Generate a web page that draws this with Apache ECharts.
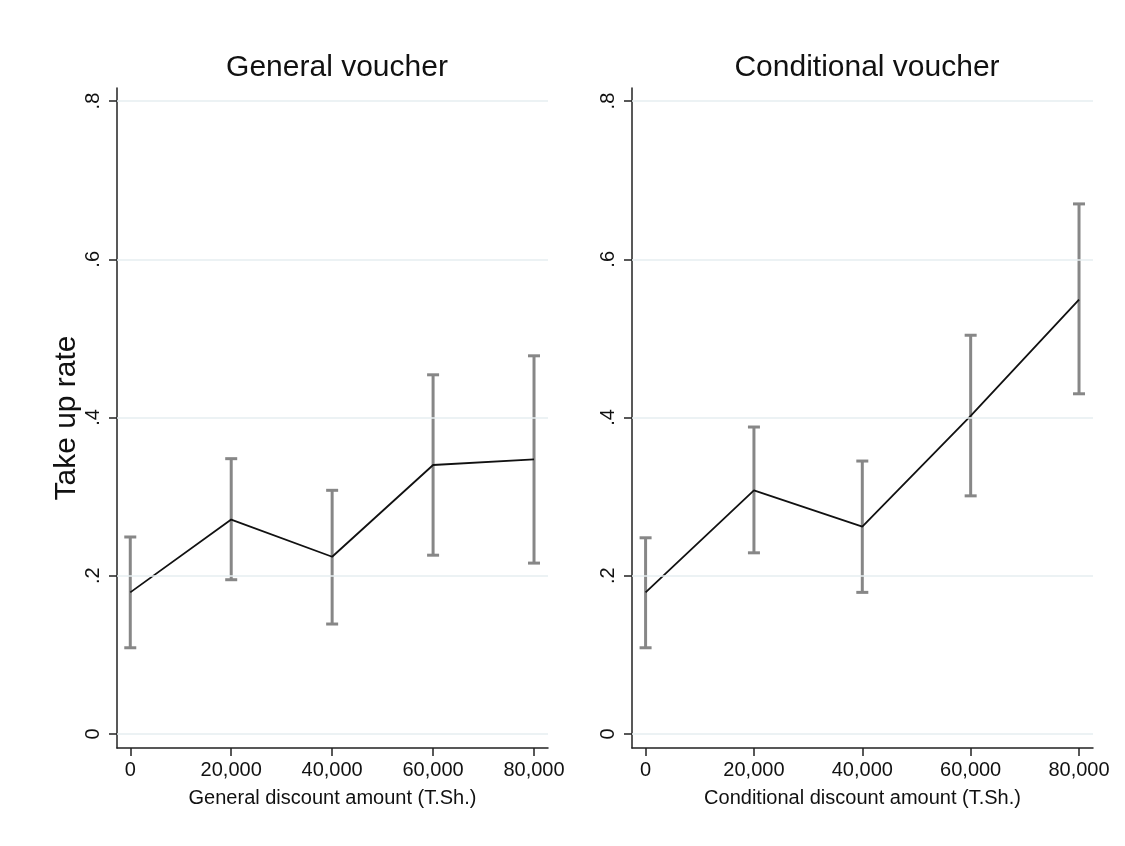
<!DOCTYPE html>
<html>
<head>
<meta charset="utf-8">
<script src="https://cdn.jsdelivr.net/npm/echarts@6/dist/echarts.min.js"></script>
<style>
html,body{margin:0;padding:0;background:#fff;}
#chart{width:1125px;height:846px;}
</style>
</head>
<body>
<div id="chart"></div>
<script>
// ---- data ----
const discountAmounts = [0, 20000, 40000, 60000, 80000];
const yTicks = [0, 0.2, 0.4, 0.6, 0.8];

const generalMean = [0.179, 0.271, 0.224, 0.340, 0.347];
const generalLow  = [0.109, 0.195, 0.139, 0.226, 0.216];
const generalHigh = [0.249, 0.348, 0.308, 0.454, 0.478];

const conditionalMean = [0.179, 0.308, 0.262, 0.402, 0.549];
const conditionalLow  = [0.109, 0.229, 0.179, 0.301, 0.430];
const conditionalHigh = [0.248, 0.388, 0.345, 0.504, 0.670];

const panelTitles = ['General voucher', 'Conditional voucher'];
const xAxisNames = ['General discount amount (T.Sh.)', 'Conditional discount amount (T.Sh.)'];
const yAxisName = 'Take up rate';

// ---- chart ----
const FONT = '"Liberation Sans", Arial, Helvetica, sans-serif';
const chart = echarts.init(document.getElementById('chart'));

function fmtX(v) { return Number(v).toLocaleString('en-US'); }
function fmtY(v) { return v === 0 ? '0' : String(v).replace(/^0/, ''); }

function errorBarItem(params, api) {
  const x = api.value(0), lo = api.value(1), hi = api.value(2);
  const pLo = api.coord([x, lo]);
  const pHi = api.coord([x, hi]);
  const hw = 6;
  const st = { stroke: '#878787', lineWidth: 3 };
  return {
    type: 'group',
    children: [
      { type: 'line', shape: { x1: pHi[0], y1: pHi[1], x2: pLo[0], y2: pLo[1] }, style: st },
      { type: 'line', shape: { x1: pHi[0] - hw, y1: pHi[1], x2: pHi[0] + hw, y2: pHi[1] }, style: st },
      { type: 'line', shape: { x1: pLo[0] - hw, y1: pLo[1], x2: pLo[0] + hw, y2: pLo[1] }, style: st }
    ]
  };
}

function xAxisCfg(idx, min, max) {
  return {
    type: 'value', gridIndex: idx, min: min, max: max,
    name: xAxisNames[idx], nameLocation: 'middle', nameGap: 40,
    nameTextStyle: { fontFamily: FONT, fontSize: 20, color: '#111' },
    axisLine: { show: true, onZero: false, lineStyle: { color: '#222', width: 1.5 } },
    axisTick: { show: true, length: 8, customValues: discountAmounts, lineStyle: { color: '#222', width: 1.5 } },
    axisLabel: { customValues: discountAmounts, formatter: fmtX, fontFamily: FONT, fontSize: 20, color: '#111', margin: 12 },
    splitLine: { show: false }
  };
}

function yAxisCfg(idx, withName) {
  return {
    type: 'value', gridIndex: idx, min: -0.0177, max: 0.8165,
    name: withName ? yAxisName : '', nameLocation: 'middle', nameGap: 35, nameRotate: 90,
    nameTextStyle: { fontFamily: FONT, fontSize: 30, color: '#111' },
    axisLine: { show: true, onZero: false, lineStyle: { color: '#222', width: 1.5 } },
    axisTick: { show: true, length: 8, customValues: yTicks, lineStyle: { color: '#222', width: 1.5 } },
    axisLabel: { customValues: yTicks, formatter: fmtY, rotate: 90, fontFamily: FONT, fontSize: 20, color: '#111', margin: 14 },
    splitLine: { show: false }
  };
}

function pairs(xs, ys) { return xs.map((x, i) => [x, ys[i]]); }
function triples(xs, lo, hi) { return xs.map((x, i) => [x, lo[i], hi[i]]); }

function gridLines(idx) {
  return {
    type: 'line', xAxisIndex: idx, yAxisIndex: idx, data: [], silent: true, z: 1,
    markLine: {
      silent: true, symbol: 'none', animation: false,
      label: { show: false },
      lineStyle: { color: '#e6eef0', width: 1.5, type: 'solid' },
      data: yTicks.map(v => ({ yAxis: v }))
    }
  };
}

const option = {
  animation: false,
  backgroundColor: '#ffffff',
  title: [
    { text: panelTitles[0], left: 332, top: 48, textAlign: 'center',
      textStyle: { fontFamily: FONT, fontSize: 30, fontWeight: 'normal', color: '#111' } },
    { text: panelTitles[1], left: 862, top: 48, textAlign: 'center',
      textStyle: { fontFamily: FONT, fontSize: 30, fontWeight: 'normal', color: '#111' } }
  ],
  grid: [
    { left: 117, right: 577, top: 88, bottom: 98 },
    { left: 632, right: 32, top: 88, bottom: 98 }
  ],
  xAxis: [ xAxisCfg(0, -2630, 82770), xAxisCfg(1, -2507, 82580) ],
  yAxis: [ yAxisCfg(0, true), yAxisCfg(1, false) ],
  series: [
    gridLines(0),
    gridLines(1),
    { type: 'custom', xAxisIndex: 0, yAxisIndex: 0, renderItem: errorBarItem,
      data: triples(discountAmounts, generalLow, generalHigh), z: 2, silent: true },
    { type: 'custom', xAxisIndex: 1, yAxisIndex: 1, renderItem: errorBarItem,
      data: triples(discountAmounts, conditionalLow, conditionalHigh), z: 2, silent: true },
    { type: 'line', xAxisIndex: 0, yAxisIndex: 0, data: pairs(discountAmounts, generalMean),
      symbol: 'none', lineStyle: { color: '#111', width: 1.8 }, z: 3, silent: true },
    { type: 'line', xAxisIndex: 1, yAxisIndex: 1, data: pairs(discountAmounts, conditionalMean),
      symbol: 'none', lineStyle: { color: '#111', width: 1.8 }, z: 3, silent: true }
  ]
};
chart.setOption(option);
</script>
</body>
</html>
